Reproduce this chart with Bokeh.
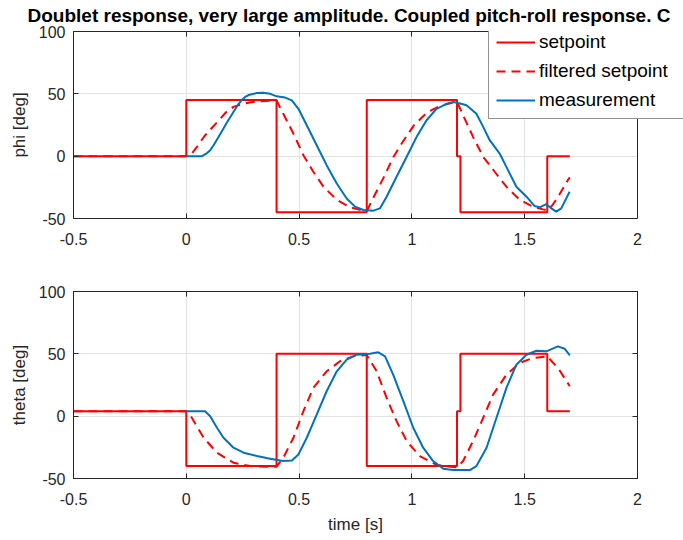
from bokeh.plotting import figure
from bokeh.models import Range1d, FixedTicker, Legend, LegendItem, BoxAnnotation, Span, LinearAxis
from bokeh.layouts import column
from bokeh.embed import file_html
from bokeh.resources import INLINE

title_text = "Doublet response, very large amplitude. Coupled pitch-roll response. C"
x_ticks = [-0.5, 0, 0.5, 1, 1.5, 2]
x_tick_labels = ["-0.5", "0", "0.5", "1", "1.5", "2"]
y_ticks = [-50, 0, 50, 100]
y_tick_labels = ["-50", "0", "50", "100"]

# setpoint (step, value held after each time)
t_set = [-0.5, 0.0, 0.4, 0.8, 1.2, 1.215, 1.6, 1.7]
phi_set = [0, 45, -45, 45, 0, -45, 0, 0]
theta_set = [4, -40, 50, -40, 4, 50, 4, 4]

# filtered setpoint
t_phi_filt = [-0.5, 0.0, 0.02, 0.047, 0.08, 0.115, 0.143, 0.175, 0.209, 0.25,
              0.3, 0.35, 0.4, 0.43, 0.475, 0.519, 0.563, 0.608, 0.667, 0.726,
              0.785, 0.8, 0.83, 0.875, 0.92, 0.963, 1.008, 1.067, 1.126, 1.185,
              1.2, 1.227, 1.271, 1.316, 1.367, 1.419, 1.478, 1.537, 1.581, 1.6,
              1.62, 1.647, 1.692, 1.7]
phi_filt = [0, 0, 1, 7.4, 16, 23, 28.5, 35, 39.5, 42,
            43.7, 44.3, 44.6, 34, 18, 0.8, -12.5, -24.5, -35, -41,
            -43.7, -44, -33, -17, 0, 12.5, 24.5, 35, 40.5, 43,
            43.5, 32.8, 15.5, -0.5, -12.5, -24.5, -35, -40.5, -42.7, -43.5,
            -40, -33, -19, -17]

t_theta_filt = [-0.5, 0.0, 0.02, 0.077, 0.136, 0.209, 0.283, 0.35, 0.4, 0.43,
                0.475, 0.519, 0.563, 0.622, 0.681, 0.74, 0.8, 0.844, 0.888, 0.932,
                0.977, 1.035, 1.109, 1.183, 1.2, 1.227, 1.271, 1.316, 1.36, 1.419,
                1.478, 1.537, 1.6, 1.65, 1.7]
theta_filt = [4, 4, 0, -17.3, -29.3, -37.3, -40, -40.5, -40.5, -33.3,
              -17.3, 4, 22.7, 36, 44, 48, 49, 36, 14.7, -4,
              -20, -32, -39, -40.8, -41, -36, -20, -1.3, 17.3, 33.3,
              42.7, 46.7, 48, 38, 24]

# measurement
t_phi_meas = [0.0, 0.069, 0.092, 0.106, 0.121, 0.150, 0.18, 0.209, 0.232, 0.246,
              0.261, 0.276, 0.313, 0.34, 0.372, 0.401, 0.438, 0.468, 0.497, 0.534,
              0.578, 0.622, 0.667, 0.711, 0.748, 0.785, 0.829, 0.858, 0.888, 0.932,
              0.977, 1.021, 1.065, 1.109, 1.154, 1.185, 1.227, 1.242, 1.286, 1.316,
              1.345, 1.389, 1.426, 1.463, 1.508, 1.544, 1.566, 1.596, 1.618, 1.64,
              1.662, 1.699]
phi_meas = [0, 0, 2.5, 4.8, 8.8, 17.5, 27, 35.5, 42, 45,
            47.5, 49, 50.7, 50.8, 50, 48, 47, 44.8, 38, 24.8,
            8.8, -7.2, -21.9, -33.9, -40.5, -43.2, -43.7, -41.9, -32.5, -16.5,
            -0.5, 15.5, 28.8, 38, 42, 43.5, 41.6, 40.8, 34, 23.5,
            12.8, 2.1, -11.2, -24.5, -32.5, -40, -41, -38.4, -41.9, -44.5,
            -41.9, -28.5]

t_theta_meas = [0.0, 0.083, 0.106, 0.136, 0.165, 0.209, 0.254, 0.313, 0.372, 0.43,
                0.468, 0.497, 0.534, 0.578, 0.622, 0.667, 0.711, 0.755, 0.814, 0.851,
                0.881, 0.917, 0.962, 1.006, 1.05, 1.094, 1.139, 1.183, 1.257, 1.286,
                1.331, 1.375, 1.419, 1.463, 1.508, 1.552, 1.596, 1.647, 1.677, 1.7]
theta_meas = [4, 4, 0, -9.3, -17.3, -25.3, -29.3, -32, -34.1, -36,
              -35.5, -30.7, -17.3, 1.3, 20, 36, 45.3, 49.3, 50.1, 51.2,
              48, 33.3, 12, -9.3, -25.3, -36, -42.1, -43.2, -43.2, -40,
              -25.3, -1.3, 22.7, 41.3, 49.3, 52.5, 52, 56, 54.1, 48.8]

FONT = "Liberation Sans"
AX = "#262626"
RED = "#FF0000"
BLUE = "#0072BD"

X0, X1 = x_ticks[0], x_ticks[-1]
Y0, Y1 = y_ticks[0], y_ticks[-1]
FW, FH = 564, 187
LEFT = 73


def tick_only_axis(ticks, bounds=None):
    """Mirror axis: inward ticks only, no labels."""
    ax = LinearAxis(ticker=FixedTicker(ticks=ticks))
    ax.axis_line_color = AX
    ax.major_tick_line_color = AX
    ax.major_tick_in = 5
    ax.major_tick_out = 0
    ax.minor_tick_line_color = None
    ax.major_label_text_font_size = "0px"
    ax.major_label_text_color = None
    ax.major_label_standoff = 0
    if bounds is not None:
        ax.bounds = bounds
    return ax


def make_fig(ylabel, border_top, border_bottom, frame_w, xlabel=None):
    x_end = X0 + (X1 - X0) * frame_w / FW
    p = figure(frame_width=frame_w, frame_height=FH,
               x_range=Range1d(X0, x_end), y_range=Range1d(Y0, Y1),
               output_backend="svg", toolbar_location=None,
               min_border_left=LEFT, min_border_right=683 - LEFT - frame_w,
               min_border_top=border_top, min_border_bottom=border_bottom)
    p.background_fill_color = "white"
    p.border_fill_color = "white"
    p.outline_line_color = AX
    p.outline_line_width = 1
    p.xaxis.ticker = FixedTicker(ticks=x_ticks)
    p.yaxis.ticker = FixedTicker(ticks=y_ticks)
    p.xaxis.major_label_overrides = dict(zip(x_ticks, x_tick_labels))
    p.yaxis.major_label_overrides = dict(zip(y_ticks, y_tick_labels))
    p.xaxis.bounds = (X0, X1)
    for ax in (p.xaxis[0], p.yaxis[0]):
        ax.axis_line_color = AX
        ax.major_tick_line_color = AX
        ax.major_tick_in = 5
        ax.major_tick_out = 0
        ax.minor_tick_line_color = None
        ax.major_label_text_font = FONT
        ax.major_label_text_font_size = "16px"
        ax.major_label_text_color = AX
        ax.axis_label_text_font = FONT
        ax.axis_label_text_font_size = "17px"
        ax.axis_label_text_font_style = "normal"
        ax.axis_label_text_color = AX
    p.xaxis.major_label_standoff = 14
    p.yaxis.major_label_standoff = 8
    p.yaxis.axis_label = ylabel
    p.yaxis.axis_label_standoff = 7
    if xlabel:
        p.xaxis.axis_label = xlabel
        p.xaxis.axis_label_standoff = 7
    p.grid.grid_line_color = "#e3e3e3"
    p.grid.grid_line_width = 1
    p.add_layout(tick_only_axis(x_ticks, (X0, X1)), "above")
    return p


def draw(p, ysp, tf, yf, tm, ym):
    r1 = p.step(t_set, ysp, mode="after", line_color=RED, line_width=2)
    r2 = p.line(tf, yf, line_color=RED, line_width=2, line_dash="9 6")
    r3 = p.line(tm, ym, line_color=BLUE, line_width=2, line_join="round")
    return r1, r2, r3


# top panel: frame reaches the right edge so that the legend can overhang the axes box
p1 = make_fig("phi [deg]", 31, 37, 683 - LEFT)
r1, r2, r3 = draw(p1, phi_set, t_phi_filt, phi_filt, t_phi_meas, phi_meas)
p1.outline_line_color = None
p1.add_layout(BoxAnnotation(left=X1, fill_color="white", fill_alpha=1, line_color=None))
p1.add_layout(Span(location=X1, dimension="height", line_color=AX, line_width=1))
p1.title.text = title_text
p1.title.align = "left"
p1.title.offset = -46
p1.title.vertical_align = "top"
p1.title.standoff = 7
p1.title.text_font = FONT
p1.title.text_font_size = "19px"
p1.title.text_font_style = "bold"
p1.title.text_color = "black"

legend = Legend(items=[LegendItem(label="setpoint", renderers=[r1]),
                       LegendItem(label="filtered setpoint", renderers=[r2]),
                       LegendItem(label="measurement", renderers=[r3])],
                location=(415, 99), margin=0, padding=7, spacing=7,
                glyph_width=39, glyph_height=20, label_height=20, label_width=160,
                label_standoff=4, label_text_font=FONT, label_text_font_size="19px",
                label_text_color="black", border_line_color=AX, border_line_width=1,
                background_fill_color="white", background_fill_alpha=1)
p1.add_layout(legend)

p2 = make_fig("theta [deg]", 36, 60, FW, xlabel="time [s]")
draw(p2, theta_set, t_theta_filt, theta_filt, t_theta_meas, theta_meas)
p2.add_layout(tick_only_axis(y_ticks), "right")

layout = column(p1, p2)
open("out.html", "w").write(file_html(layout, INLINE))
